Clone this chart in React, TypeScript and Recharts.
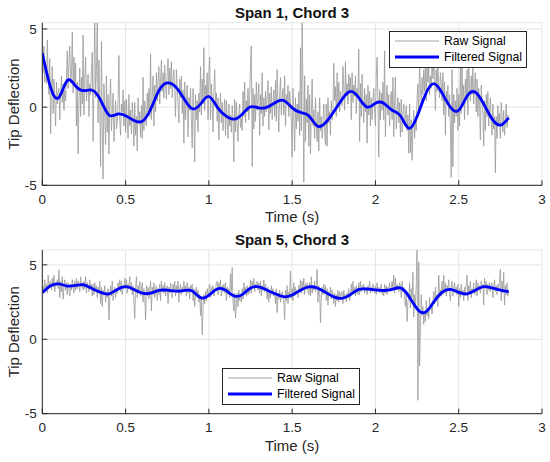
import React from 'react';
import { LineChart, Line, XAxis, YAxis, CartesianGrid, Legend } from 'recharts';

// axis ticks
const xTicks = [0, 0.5, 1, 1.5, 2, 2.5, 3];
const yTicks = [-5, 0, 5];

// sample spacing of the two signals (s)
const RAW_STEP = 0.005;
const FILT_STEP = 0.05;

// Span 1, Chord 3 – raw tip deflection, one row = 0.05 s
const span1Raw = [
  3.4, 2.2, 3.9, 1.6, 2.8, 1.5, 4.3, 2.0, 0.8, 3.1,
  -1.7, 1.2, 2.6, -0.4, 1.8, 0.3, -1.2, 1.6, 0.2, 1.0,
  1.2, -0.8, 0.9, 2.0, 0.3, 1.5, -0.2, 1.1, 0.4, 1.9,
  3.6, 1.2, 2.8, 3.9, 1.5, 2.1, 4.8, 0.9, 3.2, 1.4,
  2.8, -1.2, 1.6, -3.0, 0.5, 2.5, -0.6, 1.9, 0.2, 4.6,
  -0.5, 1.8, 3.2, 0.4, 1.2, 2.1, -0.6, 1.5, 0.8, 2.4,
  3.5, -2.2, 1.5, 5.8, 0.6, 2.4, 5.5, -1.0, 3.0, 0.2,
  -3.8, 4.2, -1.2, -4.6, 1.5, -0.5, -2.4, 2.0, -1.6, 0.8,
  -3.0, 0.2, 1.8, -1.5, -0.4, 0.9, -2.2, -0.9, 0.4, -1.4,
  -1.0, 0.6, 3.3, -0.8, -1.8, 0.2, -0.3, 1.1, -1.2, 0.4,
  -1.6, 0.5, -0.9, -2.0, 0.8, -1.2, -0.2, -1.7, 0.3, -0.6,
  -2.5, 0.3, -1.8, -0.6, -2.8, 0.6, -1.1, -0.3, -1.9, 0.1,
  -2.0, 1.9, -1.5, 0.4, -0.8, -1.2, 0.9, -0.3, 1.2, -0.6,
  3.4, -0.8, 0.6, 2.0, -1.2, 1.4, -0.3, 2.2, 0.4, 1.6,
  2.6, 0.2, 1.8, 3.0, 1.0, 2.2, 0.6, 2.7, 1.4, 0.5,
  2.2, 3.1, 0.8, 2.5, 1.2, 2.9, 0.6, 1.8, 2.4, 1.0,
  -0.6, 2.4, 1.2, 0.3, -1.0, 1.8, 0.6, 2.0, -0.4, 1.1,
  -2.3, 1.6, -0.8, 0.5, 1.4, -1.9, 0.6, -0.2, 1.2, -0.9,
  -2.6, 1.2, -0.5, -3.5, 0.8, -0.8, 0.4, -1.6, 0.9, -0.3,
  2.6, -0.5, 1.8, 0.2, 3.8, -0.2, 1.4, 0.6, 2.2, -0.8,
  2.0, 3.2, -0.8, 1.5, 0.4, -1.6, 1.1, 2.4, 0.2, 0.9,
  -0.9, 0.6, -2.1, -0.2, 0.9, -1.0, 0.3, -1.5, -0.4, 0.5,
  -1.8, 0.4, -0.9, -2.0, 0.2, -1.2, -0.5, -1.6, 0.1, -0.8,
  -3.5, 0.5, -1.6, 0.3, -1.1, -2.2, -0.4, 0.2, -1.3, -0.7,
  -1.5, 1.0, -0.6, 1.6, -1.0, 0.4, -0.3, 1.2, -0.8, 0.6,
  2.8, 3.9, -3.8, 1.2, -1.4, 0.8, -0.9, 1.6, -0.2, 0.5,
  1.5, -1.8, 0.8, -0.4, 2.2, -1.2, 0.6, -0.6, 1.0, -0.3,
  0.6, 1.7, -1.45, 0.9, -0.4, 1.3, -0.8, 0.2, 1.1, -0.6,
  1.7, -0.9, 2.4, 0.1, -1.6, 0.8, 1.9, -0.5, 0.6, 1.2,
  -0.5, 2.0, -1.2, 0.8, 0.2, 1.4, -0.6, 1.0, 0.3, -0.9,
  -3.2, 1.2, -0.6, -2.8, 0.6, -1.4, 0.2, -0.9, 1.0, -1.8,
  3.8, -1.5, 5.4, 1.2, -4.8, 2.0, -2.2, 0.5, -1.0, 1.4,
  -2.5, 0.8, -3.0, -0.5, 1.8, -1.2, -0.2, -2.0, 0.6, -1.1,
  -2.2, -0.3, -2.8, 0.6, -1.5, -0.6, -2.0, -1.0, 0.2, -1.6,
  -2.4, 0.2, -2.5, 0.6, -1.0, -0.3, -1.8, 0.4, -0.8, -0.1,
  2.8, 0.4, 1.3, -0.6, 2.2, 0.2, 1.6, -0.3, 1.0, 0.5,
  0.1, 2.6, 1.2, -0.2, 2.9, 0.8, 1.5, 0.2, 2.1, 1.0,
  1.9, -0.8, 2.2, 0.3, 1.4, 0.7, 2.0, -0.4, 1.2, 0.6,
  3.7, -2.2, 1.5, -0.6, 2.1, 0.4, -1.0, 1.2, -0.3, 0.8,
  -2.3, 1.4, -0.5, 1.0, -1.2, 0.6, -0.8, 0.3, 1.2, -0.4,
  -1.2, 2.0, 3.2, 0.5, -3.2, 1.1, -0.8, 0.9, -0.2, 1.6,
  -0.8, 3.6, -1.9, 0.6, 1.4, -0.5, 0.8, -1.2, 0.2, 1.0,
  -0.8, 1.9, -1.9, 0.4, 1.9, -1.4, -0.2, 0.6, -1.0, 0.3,
  -1.9, 0.5, -1.6, -0.4, 0.2, -1.2, -0.7, 0.1, -1.5, -0.5,
  -2.95, 0.2, -2.9, -0.8, -3.4, -1.2, -0.2, -2.0, -0.6, -1.5,
  0.6, 1.5, -0.5, 2.8, 1.2, 0.2, 1.9, 0.8, 2.4, 1.0,
  2.6, 0.4, 3.4, 1.6, 2.5, 0.8, 2.0, 1.2, 3.0, 1.8,
  3.2, 2.0, -0.2, 2.4, 1.0, 2.8, 1.4, 0.6, 2.2, 1.5,
  0.4, 2.2, -0.5, 1.6, -1.8, 1.0, 0.2, 1.4, -0.6, 0.8,
  -1.2, -4.5, 2.4, -3.8, 0.8, -1.0, 0.4, -0.6, 1.2, -1.5,
  0.8, -1.2, 2.6, -0.4, 3.2, 0.2, 1.4, -0.8, 1.8, 0.6,
  2.4, -0.5, 3.0, 1.2, 0.4, 2.0, 0.8, 2.6, 0.2, 1.5,
  2.2, -0.3, 1.8, -0.6, 1.2, 0.2, -2.1, 1.4, 0.5, -0.4,
  -2.5, 0.4, -1.5, 0.8, -0.6, 1.0, -1.2, -0.2, 0.6, -0.9,
  -1.8, 0.2, -1.4, -0.6, -4.2, -0.6, -2.0, 0.1, -1.2, -0.4,
  -2.0, 0.3, -0.6, -1.6, -0.2, -1.8, -0.9, 0.2, -1.3, -0.5,
  -0.8,
];

// Span 1, Chord 3 – filtered, one value every 0.05 s
const span1Filtered = [
  3.46, 1.25, 0.62, 1.7, 1.35, 1.05, 1.08, 0.45, -0.5, -0.45,
  -0.55, -0.85, -0.9, -0.15, 1.05, 1.55, 1.3, 0.55, -0.1, 0.2,
  0.68, 0.0, -0.55, -0.77, -0.45, 0.02, -0.05, 0.0, 0.3, 0.42,
  -0.05, -0.34, -0.55, -1.2, -1.0, -0.3, 0.5, 1.0, 0.6, 0.0,
  0.25, 0.25, -0.2, -0.55, -1.35, -0.6, 0.8, 1.5, 0.9, 0.0,
  -0.2, 0.7, 0.95, 0.2, -0.75, -1.15, -0.68,
];

// Span 5, Chord 3 – raw tip deflection, one row = 0.05 s
const span5Raw = [
  3.0, 3.6, 3.2, 4.0, 3.4, 3.7, 3.1, 4.3, 3.5, 3.8,
  3.9, 3.3, 4.1, 3.5, 4.3, 3.2, 3.8, 3.6, 4.0, 3.4,
  4.66, 2.8, 3.9, 3.2, 4.2, 2.7, 3.5, 4.0, 3.3, 3.8,
  3.0, 3.8, 3.4, 2.9, 3.7, 3.3, 4.0, 3.5, 3.1, 3.9,
  3.3, 4.1, 3.4, 3.9, 3.6, 3.2, 4.2, 3.5, 3.8, 3.3,
  3.9, 3.4, 4.2, 3.1, 3.8, 3.6, 3.2, 4.0, 3.5, 3.7,
  2.9, 3.7, 3.0, 3.8, 3.3, 3.6, 2.8, 3.5, 3.2, 3.9,
  2.4, 3.5, 2.2, 3.3, 3.0, 3.6, 2.5, 3.2, 2.8, 3.4,
  1.3, 2.8, 3.6, 2.9, 3.9, 2.6, 3.1, 3.5, 2.8, 3.3,
  3.1, 3.8, 3.3, 4.0, 3.2, 3.9, 3.0, 3.6, 3.4, 4.1,
  3.4, 4.0, 3.1, 3.7, 3.5, 4.2, 3.3, 3.8, 3.0, 3.6,
  2.6, 1.4, 3.5, 4.2, 2.8, 3.6, 3.2, 3.9, 2.9, 3.4,
  3.8, 2.5, 3.4, 2.9, 1.3, 3.6, 2.9, 3.5, 2.7, 3.3,
  3.9, 1.9, 3.5, 3.0, 3.8, 2.8, 3.3, 3.6, 2.6, 3.4,
  3.0, 3.7, 2.6, 3.9, 3.2, 3.6, 3.1, 3.8, 2.9, 3.5,
  3.6, 2.4, 3.5, 3.1, 3.8, 3.3, 2.8, 3.7, 3.2, 3.9,
  2.9, 3.6, 3.1, 3.9, 2.5, 3.4, 3.7, 3.0, 3.5, 3.2,
  3.9, 3.3, 3.6, 2.9, 3.8, 3.1, 3.5, 2.7, 3.6, 3.4,
  3.7, 2.6, 3.4, 2.2, 3.1, 3.5, 2.8, 3.3, 2.5, 3.0,
  1.6, 2.9, 0.3, 2.1, 3.0, 2.4, 3.2, 2.6, 3.4, 2.9,
  3.2, 3.7, 2.8, 3.5, 3.1, 3.6, 2.9, 3.4, 3.3, 3.8,
  3.9, 3.0, 3.8, 3.3, 4.0, 2.9, 3.6, 3.2, 3.7, 3.1,
  3.8, 2.6, 3.5, 3.0, 3.4, 2.8, 4.4, 3.2, 4.82, 2.5,
  1.9, 3.1, 1.44, 2.4, 3.1, 2.2, 3.3, 2.6, 3.0, 2.5,
  3.4, 2.7, 3.8, 3.2, 3.5, 2.9, 3.6, 3.0, 3.3, 3.1,
  4.0, 3.1, 3.9, 3.4, 4.1, 3.2, 3.7, 3.5, 3.9, 3.3,
  3.8, 3.1, 3.9, 2.9, 3.6, 3.3, 4.0, 3.2, 3.7, 3.4,
  2.7, 3.5, 2.5, 3.3, 2.8, 3.6, 3.0, 3.4, 2.9, 3.2,
  2.4, 3.4, 1.8, 3.1, 2.7, 3.3, 2.5, 3.0, 3.2, 2.8,
  2.5, 1.33, 3.3, 2.6, 3.6, 2.4, 3.2, 2.9, 4.6, 2.7,
  3.4, 2.6, 3.8, 2.9, 3.5, 3.1, 3.3, 2.8, 3.6, 3.2,
  4.0, 3.1, 3.9, 3.3, 4.1, 3.0, 3.7, 3.4, 3.8, 3.2,
  3.0, 3.8, 2.9, 4.2, 3.1, 3.6, 3.3, 3.9, 3.2, 3.5,
  4.7, 2.5, 3.6, 3.2, 1.1, 2.8, 3.5, 3.0, 3.7, 3.1,
  3.6, 2.6, 3.4, 2.3, 3.2, 2.9, 3.5, 2.7, 3.3, 3.0,
  2.4, 3.1, 2.2, 3.0, 2.6, 3.3, 2.5, 3.2, 2.8, 3.0,
  3.2, 2.4, 3.3, 2.7, 3.0, 2.5, 3.1, 2.8, 3.4, 2.6,
  2.8, 3.7, 3.0, 3.9, 3.1, 3.5, 2.9, 3.6, 3.3, 3.0,
  3.8, 3.0, 3.9, 3.2, 3.6, 3.3, 3.7, 3.1, 3.5, 3.4,
  3.0, 3.6, 3.3, 3.9, 3.1, 3.5, 3.2, 3.7, 3.4, 3.1,
  3.6, 3.0, 3.8, 3.2, 3.5, 3.1, 3.4, 3.7, 3.0, 3.3,
  2.9, 3.7, 3.1, 3.6, 3.0, 3.5, 3.3, 3.8, 3.2, 3.4,
  3.9, 3.4, 4.3, 3.1, 4.1, 3.3, 3.7, 3.5, 3.2, 3.8,
  3.6, 2.8, 3.9, 3.2, 3.5, 2.9, 2.2, 3.1, 1.2, 2.6,
  2.6, 3.8, 2.1, 3.4, 2.8, 4.5, 1.5, 3.0, 2.2, 3.6,
  6.5, -4.1, 5.2, -1.8, 0.65, 3.0, 1.6, 2.2, 1.0, 1.9,
  1.2, 2.6, 1.6, 2.1, 1.4, 2.8, 2.0, 2.4, 1.7, 2.5,
  3.2, 2.4, 3.5, 2.6, 3.0, 2.2, 4.3, 2.8, 3.3, 2.9,
  3.9, 3.0, 4.3, 3.2, 3.8, 2.9, 3.6, 3.4, 4.0, 3.1,
  2.6, 3.6, 3.9, 2.9, 3.4, 3.8, 3.1, 3.5, 3.0, 3.7,
  2.2, 3.4, 2.8, 3.7, 3.0, 3.3, 2.6, 3.5, 3.1, 3.6,
  4.3, 2.6, 3.6, 3.1, 3.9, 2.8, 3.4, 3.2, 3.8, 3.0,
  3.2, 4.0, 2.9, 3.8, 3.3, 3.6, 3.1, 3.9, 3.4, 3.7,
  2.3, 4.1, 3.4, 3.9, 3.0, 3.7, 3.3, 3.8, 3.2, 3.6,
  3.8, 2.8, 3.5, 4.0, 3.2, 3.6, 3.0, 3.7, 3.3, 3.9,
  4.7, 2.6, 3.9, 3.1, 4.5, 2.3, 3.6, 3.0, 3.8, 2.9,
  3.2,
];

// Span 5, Chord 3 – filtered, one value every 0.05 s
const span5Filtered = [
  3.13, 3.6, 3.72, 3.58, 3.62, 3.66, 3.4, 3.15, 3.05, 3.35,
  3.54, 3.35, 3.1, 3.1, 3.28, 3.3, 3.24, 3.27, 3.25, 2.8,
  2.95, 3.38, 3.3, 2.92, 3.0, 3.45, 3.52, 3.3, 3.05, 2.86,
  2.98, 3.3, 3.52, 3.45, 3.15, 2.85, 2.75, 3.0, 3.35, 3.38,
  3.32, 3.28, 3.35, 3.45, 2.9, 2.05, 1.82, 2.5, 3.15, 3.35,
  3.15, 3.05, 3.3, 3.54, 3.45, 3.3, 3.2,
];

const toPoints = (vals: number[], step: number) =>
  vals.map((v, i) => ({ t: Math.round(i * step * 1000) / 1000, v }));

const AXIS = '#262626';
const FONT = '"Liberation Sans", Arial, Helvetica, sans-serif';
const legendOrder = ['Raw Signal', 'Filtered Signal'];
const lineWidths: Record<string, number> = { 'Raw Signal': 0.9, 'Filtered Signal': 2.8 };

const renderLegend = (props: any) => {
  const items = [...(props.payload || [])].sort(
    (a: any, b: any) => legendOrder.indexOf(a.value) - legendOrder.indexOf(b.value)
  );
  return (
    <div
      style={{
        boxSizing: 'border-box',
        width: 138,
        height: 37,
        background: '#fff',
        border: `1px solid ${AXIS}`,
        padding: '2px 0 0 5px',
        fontFamily: FONT,
      }}
    >
      {items.map((entry: any) => (
        <div key={entry.value} style={{ display: 'flex', alignItems: 'center', height: 15.6 }}>
          <svg width={44} height={6} style={{ display: 'block', flexShrink: 0 }}>
            <line x1={0} y1={3} x2={44} y2={3} stroke={entry.color} strokeWidth={lineWidths[entry.value] || 1} />
          </svg>
          <span style={{ marginLeft: 5, fontSize: 12.2, color: '#000', whiteSpace: 'nowrap' }}>{entry.value}</span>
        </div>
      ))}
    </div>
  );
};

type PlotProps = {
  title: string;
  raw: number[];
  filtered: number[];
  yMax: number;
  height: number;
  marginTop: number;
  axisHeight: number;
  legendLeft: number;
  legendTop: number;
};

const SpanPlot: React.FC<PlotProps> = ({ title, raw, filtered, yMax, height, marginTop, axisHeight, legendLeft, legendTop }) => {
  const rawData = toPoints(raw, RAW_STEP);
  const filtData = toPoints(filtered, FILT_STEP);
  return (
    <div style={{ position: 'relative', width: 550, height }}>
      <div
        style={{
          position: 'absolute',
          left: 42,
          width: 500,
          top: marginTop - 18,
          textAlign: 'center',
          fontSize: 15,
          lineHeight: '15px',
          fontWeight: 'bold',
          color: '#111',
          fontFamily: FONT,
        }}
      >
        {title}
      </div>
      <LineChart width={550} height={height} margin={{ top: marginTop, right: 8, bottom: 0, left: 0 }}>
        <CartesianGrid stroke="#dedede" strokeWidth={0.8} />
        <XAxis
          dataKey="t"
          type="number"
          domain={[0, 3]}
          ticks={xTicks}
          allowDataOverflow
          height={axisHeight}
          stroke={AXIS}
          tickSize={-5}
          tickMargin={14}
          tick={{ fill: AXIS, fontSize: 13.5 }}
          label={{ value: 'Time (s)', position: 'insideBottom', offset: axisHeight - 37, fill: AXIS, fontSize: 15 }}
        />
        <XAxis
          xAxisId="top"
          orientation="top"
          type="number"
          domain={[0, 3]}
          ticks={xTicks}
          allowDataOverflow
          height={0}
          stroke={AXIS}
          tickSize={-5}
          tickFormatter={() => ''}
        />
        <YAxis
          type="number"
          domain={[-5, yMax]}
          ticks={yTicks}
          allowDataOverflow
          width={42.3}
          stroke={AXIS}
          tickSize={-5}
          tickMargin={10.5}
          tick={{ fill: AXIS, fontSize: 13.5 }}
          label={{
            value: 'Tip Deflection',
            angle: -90,
            position: 'insideLeft',
            offset: 13.5,
            fill: AXIS,
            fontSize: 15,
            style: { textAnchor: 'middle' },
          }}
        />
        <YAxis
          yAxisId="right"
          orientation="right"
          type="number"
          domain={[-5, yMax]}
          ticks={yTicks}
          allowDataOverflow
          width={0}
          stroke={AXIS}
          tickSize={-5}
          tickFormatter={() => ''}
        />
        <Legend
          layout="vertical"
          align="center"
          verticalAlign="middle"
          content={renderLegend}
          wrapperStyle={{ left: legendLeft, top: legendTop, width: 'auto' }}
        />
        <Line
          data={rawData}
          dataKey="v"
          name="Raw Signal"
          type="linear"
          stroke="#999999"
          strokeWidth={0.8}
          dot={false}
          activeDot={false}
          isAnimationActive={false}
        />
        <Line
          data={filtData}
          dataKey="v"
          name="Filtered Signal"
          type="natural"
          stroke="#0000ff"
          strokeWidth={2.8}
          dot={false}
          activeDot={false}
          isAnimationActive={false}
        />
      </LineChart>
    </div>
  );
};

export default function App() {
  return (
    <div style={{ position: 'absolute', left: 0, top: 0, width: 550, height: 462, background: '#fff', fontFamily: FONT }}>
      <SpanPlot
        title="Span 1, Chord 3"
        raw={span1Raw}
        filtered={span1Filtered}
        yMax={5.4}
        height={230}
        marginTop={22.7}
        axisHeight={44.7}
        legendLeft={389}
        legendTop={30.7}
      />
      <SpanPlot
        title="Span 5, Chord 3"
        raw={span5Raw}
        filtered={span5Filtered}
        yMax={6}
        height={232}
        marginTop={20}
        axisHeight={48.3}
        legendLeft={222}
        legendTop={137.7}
      />
    </div>
  );
}
